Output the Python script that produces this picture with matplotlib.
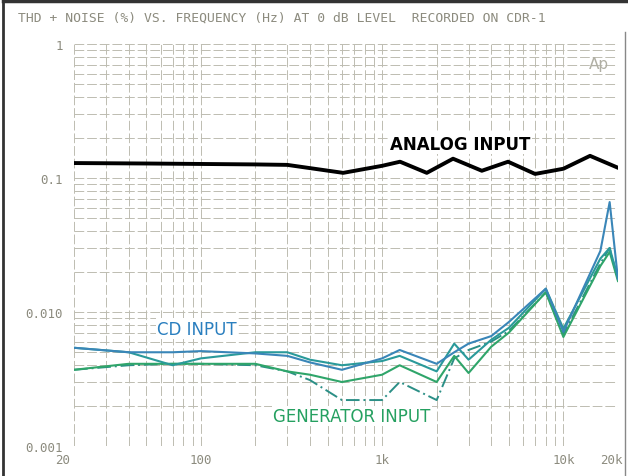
import matplotlib.pyplot as plt
from matplotlib.lines import Line2D
from matplotlib.ticker import LogLocator, NullFormatter
from matplotlib.transforms import ScaledTranslation

# analog input (black trace)
analog_freq = [20, 50, 100, 200, 300, 610, 1000, 1256, 1764, 2462, 3549, 4954, 6980, 10000, 14030, 20000]
analog_thd = [0.129, 0.128, 0.127, 0.126, 0.125, 0.109, 0.123, 0.132, 0.109, 0.139, 0.113, 0.132, 0.107, 0.117, 0.146, 0.119]

# digital traces share one frequency grid
freq = [20, 40, 70, 100, 200, 300, 400, 600, 1000, 1250, 2000, 2500, 3000, 4000, 5000, 8000, 10000, 16000, 18000, 20000]
cd_left = [0.0054, 0.0050, 0.0050, 0.0051, 0.0049, 0.0047, 0.0042, 0.0037, 0.0045, 0.0052, 0.0041, 0.0050, 0.0058, 0.0066, 0.0084, 0.0149, 0.0071, 0.0285, 0.066, 0.0176]
cd_right = [0.0054, 0.0050, 0.0040, 0.0045, 0.0050, 0.0050, 0.0044, 0.0040, 0.0043, 0.0047, 0.0036, 0.0058, 0.0044, 0.0062, 0.0076, 0.0149, 0.0075, 0.0250, 0.0300, 0.0180]
gen_left = [0.0037, 0.0041, 0.0041, 0.0041, 0.0041, 0.0036, 0.0034, 0.0030, 0.0034, 0.0040, 0.0030, 0.0047, 0.0035, 0.0055, 0.0070, 0.0140, 0.0065, 0.0220, 0.0280, 0.0170]
gen_right = [0.0037, 0.0040, 0.0041, 0.0041, 0.0040, 0.0036, 0.0031, 0.0022, 0.0022, 0.0030, 0.0022, 0.0045, 0.0052, 0.0060, 0.0072, 0.0140, 0.0068, 0.0230, 0.0300, 0.0175]

x_ticks = [20, 100, 1000, 10000, 20000]
x_labels = ["20", "100", "1k", "10k", "20k"]
y_ticks = [0.001, 0.01, 0.1, 1]
y_labels = ["0.001", "0.010", "0.1", "1"]

grid_col = "#bdbcb1"
text_col = "#8c8b7e"

fig = plt.figure(figsize=(6.28, 4.77), dpi=100)
ax = fig.add_axes([0.118, 0.063, 0.866, 0.843])

ax.set_xscale("log")
ax.set_yscale("log")
ax.set_xlim(20, 20000)
ax.set_ylim(0.001, 1)

ax.xaxis.set_minor_locator(LogLocator(base=10, subs=range(1, 10)))
ax.yaxis.set_minor_locator(LogLocator(base=10, subs=range(1, 10)))
ax.xaxis.set_minor_formatter(NullFormatter())
ax.yaxis.set_minor_formatter(NullFormatter())
ax.grid(True, which="both", color=grid_col, linestyle=(0, (10, 3)), linewidth=0.7)
for s in ax.spines.values():
    s.set_visible(False)

ax.set_xticks(x_ticks)
ax.set_xticklabels(x_labels)
ax.set_yticks(y_ticks)
ax.set_yticklabels(y_labels)
ax.tick_params(which="both", length=0, colors=text_col, labelsize=9)
ax.tick_params(axis="x", pad=5)
ax.tick_params(axis="y", pad=8)
for lbl in ax.get_xticklabels() + ax.get_yticklabels():
    lbl.set_family("DejaVu Sans Mono")
# nudge the end labels like on the original plot
xl = ax.get_xticklabels()
xl[0].set_transform(xl[0].get_transform() + ScaledTranslation(-0.11, 0, fig.dpi_scale_trans))
xl[-1].set_transform(xl[-1].get_transform() + ScaledTranslation(-0.07, 0, fig.dpi_scale_trans))

ax.plot(freq, gen_right, color="#2b8f86", lw=1.4, linestyle=(0, (7, 2, 1, 2)))
ax.plot(freq, gen_left, color="#2fa56a", lw=1.5)
ax.plot(freq, cd_right, color="#2a9a9a", lw=1.5)
ax.plot(freq, cd_left, color="#3a86b8", lw=1.5)
ax.plot(analog_freq, analog_thd, color="black", lw=2.8)

ax.text(2690, 0.18, "ANALOG INPUT", fontsize=12, ha="center", va="center", color="black", fontweight="bold",
        bbox=dict(facecolor="white", edgecolor="none", pad=1))
ax.text(95, 0.0075, "CD INPUT", fontsize=12, ha="center", va="center", color="#2a7fbf",
        bbox=dict(facecolor="white", edgecolor="none", pad=1))
ax.text(680, 0.00167, "GENERATOR INPUT", fontsize=12, ha="center", va="center", color="#25a060",
        bbox=dict(facecolor="white", edgecolor="none", pad=1))
ax.text(0.965, 0.97, "Ap", transform=ax.transAxes, fontsize=11, ha="center", va="top", color="#b0afa4")

fig.text(0.029, 0.963, "THD + NOISE (%) VS. FREQUENCY (Hz) AT 0 dB LEVEL  RECORDED ON CDR-1",
         fontsize=9.4, family="DejaVu Sans Mono", color=text_col, va="center")

# scanned page frame
fig.add_artist(Line2D([0.005, 1.0], [0.995, 0.995], color="#333333", lw=2.5))
fig.add_artist(Line2D([0.005, 0.005], [0.0, 0.995], color="#333333", lw=2))
fig.add_artist(Line2D([0.995, 0.995], [0.0, 0.93], color="#888888", lw=1))

fig.savefig("out.png", dpi=100)
